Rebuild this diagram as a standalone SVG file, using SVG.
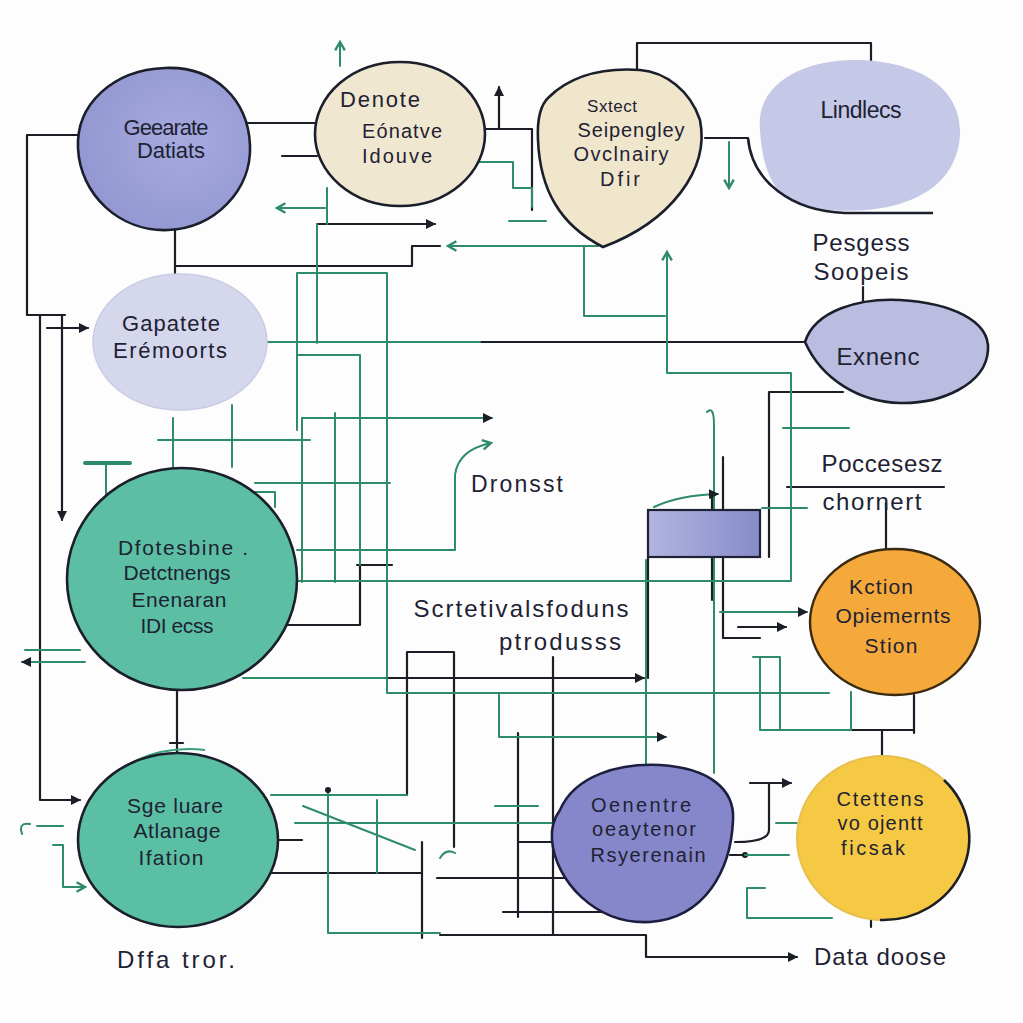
<svg xmlns="http://www.w3.org/2000/svg" width="1023" height="1023" viewBox="0 0 1023 1023">
<defs>
<style>
.k{fill:none;stroke:#1b1e27;stroke-width:2.2;stroke-linecap:round;stroke-linejoin:round}
.g{fill:none;stroke:#2f8c69;stroke-width:2;stroke-linecap:round;stroke-linejoin:round}
.t{font-family:"Liberation Sans",Arial,sans-serif;font-size:22px;fill:#1e2233;text-anchor:middle}
.ol{stroke:#1b1e2b;stroke-width:2.6}
</style>
<marker id="ak" viewBox="0 0 10 10" refX="9" refY="5" markerWidth="10" markerHeight="10" markerUnits="userSpaceOnUse" orient="auto"><path d="M0,0 L10,5 L0,10 z" fill="#1b1e27"/></marker>
<marker id="ag" viewBox="0 0 10 10" refX="8" refY="5" markerWidth="12" markerHeight="12" markerUnits="userSpaceOnUse" orient="auto"><path d="M1,1 L8,5 L1,9" fill="none" stroke="#2f8c69" stroke-width="2"/></marker>
<linearGradient id="rg" x1="0" x2="1" y1="0" y2="0"><stop offset="0" stop-color="#b2b5e0"/><stop offset="1" stop-color="#878bca"/></linearGradient>
<radialGradient id="pg" cx="0.6" cy="0.45" r="0.6"><stop offset="0" stop-color="#a6aade"/><stop offset="1" stop-color="#9498d2"/></radialGradient>
</defs>
<rect width="1023" height="1023" fill="#fdfdfd"/>

<g id="connectors">
<path class="k" d="M80,135 H27 V315 H65"/>
<path class="k" d="M40,315 V800 H80" marker-end="url(#ak)"/>
<path class="k" d="M62,315 V520" marker-end="url(#ak)"/>
<path class="k" d="M47,328 H88" marker-end="url(#ak)"/>
<path class="k" d="M230,123 H317"/>
<path class="k" d="M282,156 H317"/>
<path class="k" d="M175,230 V290"/>
<path class="k" d="M175,266 H412 V246 H440"/>
<path class="k" d="M485,129 H532 V210"/>
<path class="k" d="M499,129 V87" marker-end="url(#ak)"/>
<path class="k" d="M637,70 V43 H871 V88" marker-end="url(#ak)"/>
<path class="k" d="M705,138 H748"/>
<path class="k" d="M317,224 H435" marker-end="url(#ak)"/>
<path class="k" d="M480,342 H805"/>
<path class="k" d="M863,287 V305"/>
<path class="k" d="M769,557 V392 H843"/>
<path class="k" d="M177,468 V513"/>
<path class="k" d="M357,565 H392"/>
<path class="k" d="M360,565 V625 H285"/>
<path class="k" d="M648,557 V678"/>
<path class="k" d="M385,678 H644" marker-end="url(#ak)"/>
<path class="k" d="M723,457 V638 H760"/>
<path class="k" d="M712,493 V600"/>
<path class="k" d="M738,627 H786" marker-end="url(#ak)"/>
<path class="k" d="M787,487 H944"/>
<path class="k" d="M886,503 V562"/>
<path class="k" d="M914,695 V733"/>
<path class="k" d="M850,730 H914"/>
<path class="k" d="M882,730 V760"/>
<path class="k" d="M177,690 V783" marker-end="url(#ak)"/>
<path class="k" d="M170,743 H183"/>
<path class="k" d="M407,795 V652 H454 V847"/>
<path class="k" d="M553,657 V935"/>
<path class="k" d="M518,733 V917"/>
<path class="k" d="M518,842 H553"/>
<path class="k" d="M437,878 H566"/>
<path class="k" d="M503,912 H604"/>
<path class="k" d="M262,873 H422"/>
<path class="k" d="M422,842 V938"/>
<path class="k" d="M268,840 H302"/>
<path class="k" d="M440,935 H646 V957 H797" marker-end="url(#ak)"/>
<path class="k" d="M750,783 H791" marker-end="url(#ak)"/>
<path class="k" d="M769,783 V830 Q769,842 735,842"/>
<path class="k" d="M730,855 H745"/>
<circle cx="745" cy="855" r="3" fill="#1b1e27"/>
<path class="k" d="M871,920 V927"/>
<path class="g" d="M297,430 V273 H387 V693 H829"/>
<path class="g" d="M297,355 H360 V565"/>
<path class="g" d="M327,188 V224"/>
<path class="g" d="M325,208 H277" marker-end="url(#ag)"/>
<path class="g" d="M317,224 V343"/>
<path class="g" d="M267,342 H480"/>
<path class="g" d="M598,246 H448" marker-end="url(#ag)"/>
<path class="g" d="M473,162 H513 V188 H532 V207"/>
<path class="g" d="M509,221 H546"/>
<path class="g" d="M584,246 V316 H665"/>
<path class="g" d="M791,580 V373 H667 V252" marker-end="url(#ag)"/>
<path class="g" d="M302,418 H492" marker-end="url(#ak)"/>
<path class="g" d="M302,418 V582"/>
<path class="g" d="M297,581 H791"/>
<path class="g" d="M297,550 H455 V475 Q458,450 491,443" marker-end="url(#ag)"/>
<path class="g" d="M158,440 H310 M173,418 V468 M232,405 V467"/>
<path class="g" d="M85,463 H130" style="stroke-width:4"/>
<path class="g" d="M106,463 V497"/>
<path class="g" d="M255,483 H390 M255,492 H275 V507"/>
<path class="g" d="M335,413 V582"/>
<path class="g" d="M243,678 H385"/>
<path class="g" d="M25,650 H80"/>
<path class="g" d="M85,662 H22" marker-end="url(#ak)"/>
<path class="g" d="M729,142 V188" marker-end="url(#ag)"/>
<path class="g" d="M340,66 V42" marker-end="url(#ag)"/>
<path class="g" d="M714,773 V425 Q714,405 707,412"/>
<path class="g" d="M654,507 Q680,495 718,494" marker-end="url(#ak)"/>
<path class="g" d="M720,612 H807" marker-end="url(#ak)"/>
<path class="g" d="M762,508 H807"/>
<path class="g" d="M783,428 H849"/>
<path class="g" d="M753,657 H780 M760,657 V730 H850 M780,657 V730 M851,692 V730"/>
<path class="g" d="M646,560 V765"/>
<path class="g" d="M499,693 V737 H666" marker-end="url(#ak)"/>
<path class="g" d="M440,858 Q446,848 455,853"/>
<path class="g" d="M271,795 H407"/>
<path class="g" d="M328,790 V933 H440"/>
<circle cx="328" cy="790" r="3" fill="#1b1e27"/>
<path class="g" d="M295,823 H553"/>
<path class="g" d="M377,800 V873"/>
<path class="g" d="M303,806 L415,850"/>
<path class="g" d="M495,806 H538"/>
<path class="g" d="M747,888 V918 H832 M747,888 H765"/>
<path class="g" d="M745,855 H789"/>
<path class="g" d="M776,823 H797"/>
<path class="g" d="M22,834 Q18,822 30,824 M37,826 H63"/>
<path class="g" d="M53,845 H63 V887 H85" marker-end="url(#ag)"/>
</g>

<g id="node-geearate">
<path d="M165,68 C215,66 248,100 250,145 C252,190 215,228 168,230 C120,232 80,195 78,148 C76,105 112,70 165,68 Z" fill="url(#pg)" class="ol"/>
<text class="t" x="166" y="135" textLength="85">Geearate</text>
<text class="t" x="171" y="158" textLength="68">Datiats</text>
</g>
<g id="node-denote">
<ellipse cx="400" cy="134" rx="85" ry="72" fill="#f0e7d0" class="ol"/>
<text class="t" x="380" y="107" textLength="80" style="font-size:22px">Denote</text>
<text class="t" x="402" y="138" textLength="80" style="font-size:20px">Eónatve</text>
<text class="t" x="397" y="163" textLength="70" style="font-size:20px">Idouve</text>
</g>
<g id="node-sxtect">
<path d="M549,97 C575,72 610,68 640,70 C665,72 690,90 700,120 C710,170 670,222 603,247 C560,225 540,190 538,140 C537,120 540,105 549,97 Z" fill="#f0e6cc" class="ol"/>
<text class="t" x="612" y="112" textLength="50" style="font-size:17px">Sxtect</text>
<text class="t" x="631" y="137" textLength="107" style="font-size:20px">Seipengley</text>
<text class="t" x="621" y="161" textLength="95" style="font-size:20px">Ovclnairy</text>
<text class="t" x="620" y="186" textLength="40" style="font-size:20px">Dfir</text>
</g>
<g id="node-lindlecs">
<path d="M760,130 C755,80 810,58 860,60 C915,62 962,85 960,135 C958,170 935,192 905,202 C880,212 830,214 800,205 C772,196 762,165 760,130 Z" fill="#c5c8e6"/>
<path d="M748,138 C752,182 792,211 845,213 L933,213" fill="none" class="ol"/>
<text class="t" x="861" y="118" textLength="81" style="font-size:23px">Lindlecs</text>
</g>
<g id="label-pesgess">
<text class="t" x="861" y="251" textLength="97" style="font-size:24px">Pesgess</text>
<text class="t" x="861" y="280" textLength="95" style="font-size:24px">Soopeis</text>
</g>
<g id="node-exnenc">
<path d="M805,342 C815,310 860,298 900,300 C950,303 990,320 988,350 C986,385 940,404 900,403 C860,402 822,380 805,342 Z" fill="#babde0" class="ol"/>
<text class="t" x="878" y="365" textLength="83" style="font-size:24px">Exnenc</text>
</g>
<g id="node-gapatete">
<ellipse cx="180" cy="342" rx="87" ry="68" fill="#d5d7ed" stroke="#c9cbe3" stroke-width="1.5"/>
<text class="t" x="171" y="331" textLength="98" style="font-size:22px">Gapatete</text>
<text class="t" x="170" y="358" textLength="114" style="font-size:22px">Erémoorts</text>
</g>
<g id="node-dfotesbine">
<ellipse cx="182" cy="579" rx="115" ry="111" fill="#5cbfa4" class="ol"/>
<text class="t" x="183" y="555" textLength="130" style="font-size:21px">Dfotesbine .</text>
<text class="t" x="177" y="580" textLength="107" style="font-size:21px">Detctnengs</text>
<text class="t" x="179" y="607" textLength="95" style="font-size:21px">Enenaran</text>
<text class="t" x="177" y="633" textLength="73" style="font-size:21px">IDI ecss</text>
</g>
<g id="node-sgeluare">
<path d="M90,808 C108,762 160,745 205,750" fill="none" stroke="#3aa07f" stroke-width="2"/>
<ellipse cx="178" cy="840" rx="100" ry="87" fill="#5bbfa4" class="ol"/>
<text class="t" x="175" y="813" textLength="96" style="font-size:21px">Sge luare</text>
<text class="t" x="177" y="838" textLength="87" style="font-size:21px">Atlanage</text>
<text class="t" x="171" y="865" textLength="65" style="font-size:21px">Ifation</text>
</g>
<g id="label-dffa">
<text class="t" x="176" y="968" textLength="118" style="font-size:24px">Dffa tror.</text>
</g>
<g id="label-dronsst">
<text class="t" x="517" y="492" textLength="92" style="font-size:23px">Dronsst</text>
</g>
<g id="label-scrtetivals">
<text class="t" x="521" y="617" textLength="215" style="font-size:24px">Scrtetivalsfoduns</text>
<text class="t" x="560" y="650" textLength="122" style="font-size:24px">ptrodusss</text>
</g>
<g id="node-rect">
<rect x="648" y="510" width="112" height="47" fill="url(#rg)" stroke="#1e2233" stroke-width="2.2"/>
</g>
<g id="label-poccesesz">
<text class="t" x="882" y="472" textLength="121" style="font-size:24px">Poccesesz</text>
<text class="t" x="872" y="510" textLength="99" style="font-size:24px">chornert</text>
</g>
<g id="node-kction">
<ellipse cx="895" cy="622" rx="85" ry="73" fill="#f5a93b" stroke="#3a2a10" stroke-width="2.4"/>
<text class="t" x="881" y="594" textLength="64" style="font-size:21px">Kction</text>
<text class="t" x="893" y="623" textLength="115" style="font-size:21px">Opiemernts</text>
<text class="t" x="891" y="653" textLength="53" style="font-size:21px">Stion</text>
</g>
<g id="node-oenentre">
<path d="M560,810 C575,775 620,763 660,765 C710,768 735,790 733,820 C731,870 705,918 650,922 C595,925 555,880 552,840 C551,828 554,818 560,810 Z" fill="#8687ca" stroke="#1e1e40" stroke-width="2.6"/>
<text class="t" x="641" y="812" textLength="100" style="font-size:20px">Oenentre</text>
<text class="t" x="644" y="836" textLength="104" style="font-size:20px">oeaytenor</text>
<text class="t" x="648" y="862" textLength="115" style="font-size:20px">Rsyerenain</text>
</g>
<g id="node-ctettens">
<ellipse cx="883" cy="838" rx="86" ry="82" fill="#f6c944" stroke="#e6c04c" stroke-width="2"/>
<path d="M944,780 A86,82 0 0 1 880,920" fill="none" stroke="#1e1e25" stroke-width="2.6"/>
<text class="t" x="880" y="806" textLength="87" style="font-size:20px">Ctettens</text>
<text class="t" x="880" y="830" textLength="85" style="font-size:20px">vo ojentt</text>
<text class="t" x="873" y="855" textLength="64" style="font-size:20px">ficsak</text>
</g>
<g id="label-data">
<text class="t" x="880" y="965" textLength="132" style="font-size:24px">Data doose</text>
</g>
</svg>
